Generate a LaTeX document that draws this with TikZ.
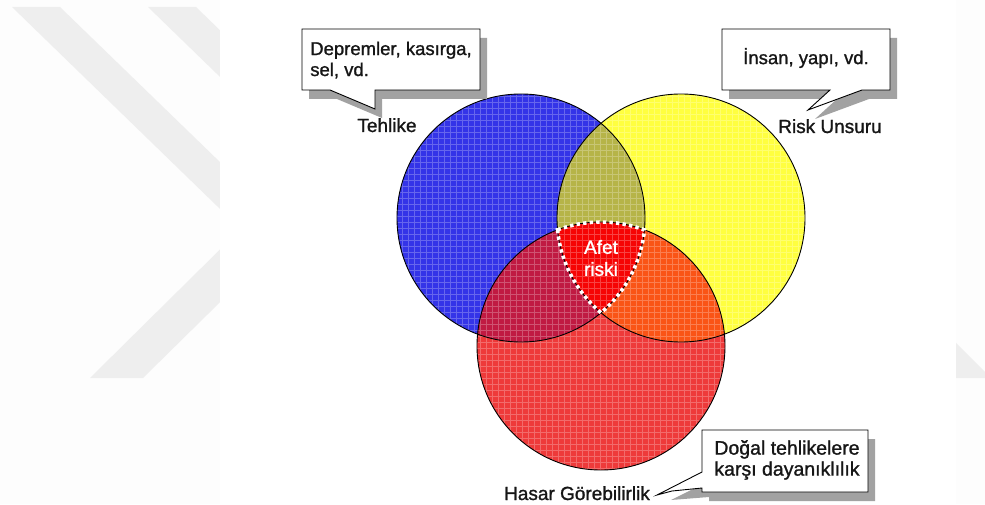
\documentclass[tikz,border=0pt]{standalone}
\usepackage{fontspec}
\setmainfont{Liberation Sans}
\newfontfamily\dfont{Liberation Sans}[FakeBold=1.2]
\usetikzlibrary{calc}
\definecolor{cblue}{RGB}{52,52,232}
\definecolor{cyellow}{RGB}{255,255,64}
\definecolor{cred}{RGB}{238,58,58}
\definecolor{cby}{RGB}{182,180,72}
\definecolor{cbr}{RGB}{192,26,66}
\definecolor{cyr}{RGB}{250,84,22}
\definecolor{ctri}{RGB}{246,4,4}
\definecolor{wmark}{RGB}{238,238,238}
\definecolor{shade}{RGB}{162,162,162}
\definecolor{bgpage}{RGB}{253,253,253}
\definecolor{ink}{RGB}{22,22,22}
\tikzset{
 ring/.style={draw=black, line width=0.9pt},
 bubble/.style={draw=black, line width=0.9pt, fill=white, line join=miter},
 bshadow/.style={fill=shade},
 boxtext/.style={font=\dfont\fontsize{18.5}{21}\selectfont, align=left, inner sep=0pt, text=ink},
 lbl/.style={font=\dfont\fontsize{19}{22}\selectfont, inner sep=0pt, text=ink, anchor=base},
 afet/.style={font=\dfont\fontsize{19}{22}\selectfont, align=center, text=white, inner sep=0pt},
 dots/.style={draw=white, line width=3.6pt, dash pattern=on 3.4pt off 3.2pt},
 texture/.style={draw=white, opacity=0.25, line width=0.6pt},
}
\begin{document}
\begin{tikzpicture}[x=1pt,y=1pt]
\useasboundingbox (0,0) rectangle (985,504);
\fill[bgpage] (0,0) rectangle (985,504);
% watermark chevrons
\fill[wmark] (12,497) -- (60,497) -- (291.7,272.4) -- (143,126) -- (90,126) -- (240.7,275) -- cycle;
\fill[wmark] (148,497) -- (196,497) -- (427.7,272.4) -- (279,126) -- (226,126) -- (376.7,275) -- cycle;
\fill[wmark] (920,197) -- (991,126) -- (920,126) -- cycle;
\fill[white] (220,0) rectangle (956,504);
% circle centres
\coordinate (cB) at (521,286);
\coordinate (cY) at (681,286);
\coordinate (cR) at (601,158);
% fills
\fill[cblue] (cB) circle[radius=124];
\fill[cyellow] (cY) circle[radius=124];
\fill[cred] (cR) circle[radius=124];
\begin{scope}
 \clip (cB) circle[radius=124];
 \fill[cby] (cY) circle[radius=124];
 \fill[cbr] (cR) circle[radius=124];
\end{scope}
\begin{scope}
 \clip (cY) circle[radius=124];
 \fill[cyr] (cR) circle[radius=124];
\end{scope}
% triple intersection
\fill[ctri] (557.56,274.14) arc[start angle=110.5, end angle=69.5, radius=124]
  arc[start angle=-5.49, end angle=-49.82, radius=124]
  arc[start angle=229.82, end angle=185.49, radius=124] -- cycle;
% texture
\begin{scope}
 \clip (cB) circle[radius=124] (cY) circle[radius=124] (cR) circle[radius=124];
 \draw[texture] (390,30) grid[step=6pt] (810,414);
\end{scope}
% outlines
\draw[ring] (cB) circle[radius=124];
\draw[ring] (cY) circle[radius=124];
\draw[ring] (cR) circle[radius=124];
% dotted border of triple region
\draw[dots] (557.56,274.14) arc[start angle=110.5, end angle=69.5, radius=124]
  arc[start angle=-5.49, end angle=-49.82, radius=124]
  arc[start angle=229.82, end angle=185.49, radius=124] -- cycle;
\node[afet] (afet) at (601,246) {Afet\\riski};
% callout tips
\coordinate (t1) at (375,395);
\coordinate (t2) at (808,394);
\coordinate (t3) at (657,9);
% bubble shadows
\begin{scope}[shift={(7,-9)}]
 \fill[bshadow] (302,475) -- (480,475) -- (480,414) -- (375,414) -- (375,395) -- (330,414) -- (302,414) -- cycle;
 \fill[bshadow] (722,475) -- (890,475) -- (890,414) -- (862,414) -- (808,394) -- (830,414) -- (722,414) -- cycle;
 \fill[bshadow] (702,74) -- (868,74) -- (868,12) -- (702,12) -- (702,16) -- (664,13) -- (702,32) -- cycle;
\end{scope}
% bubbles
\draw[bubble] (302,475) -- (480,475) -- (480,414) -- (375,414) -- (t1) -- (330,414) -- (302,414) -- cycle;
\draw[bubble] (722,475) -- (890,475) -- (890,414) -- (862,414) -- (t2) -- (830,414) -- (722,414) -- cycle;
\draw[bubble] (702,74) -- (868,74) -- (868,12) -- (702,12) -- (702,16) -- (672,13) -- (t3) -- (702,32) -- cycle;
% bubble texts
\node[boxtext] (b1) at (391,444) {Depremler, kasırga,\\sel, vd.};
\node[boxtext] (b2) at (806,446) {İnsan, yapı, vd.};
\node[boxtext, font=\dfont\fontsize{19.5}{21}\selectfont] (b3) at (787,44) {Doğal tehlikelere\\karşı dayanıklılık};
% labels
\node[lbl] (lt) at (387,372) {Tehlike};
\node[lbl] (lr) at (830,371) {Risk Unsuru};
\node[lbl] (lh) at (577,4) {Hasar Görebilirlik};
\end{tikzpicture}
\end{document}
